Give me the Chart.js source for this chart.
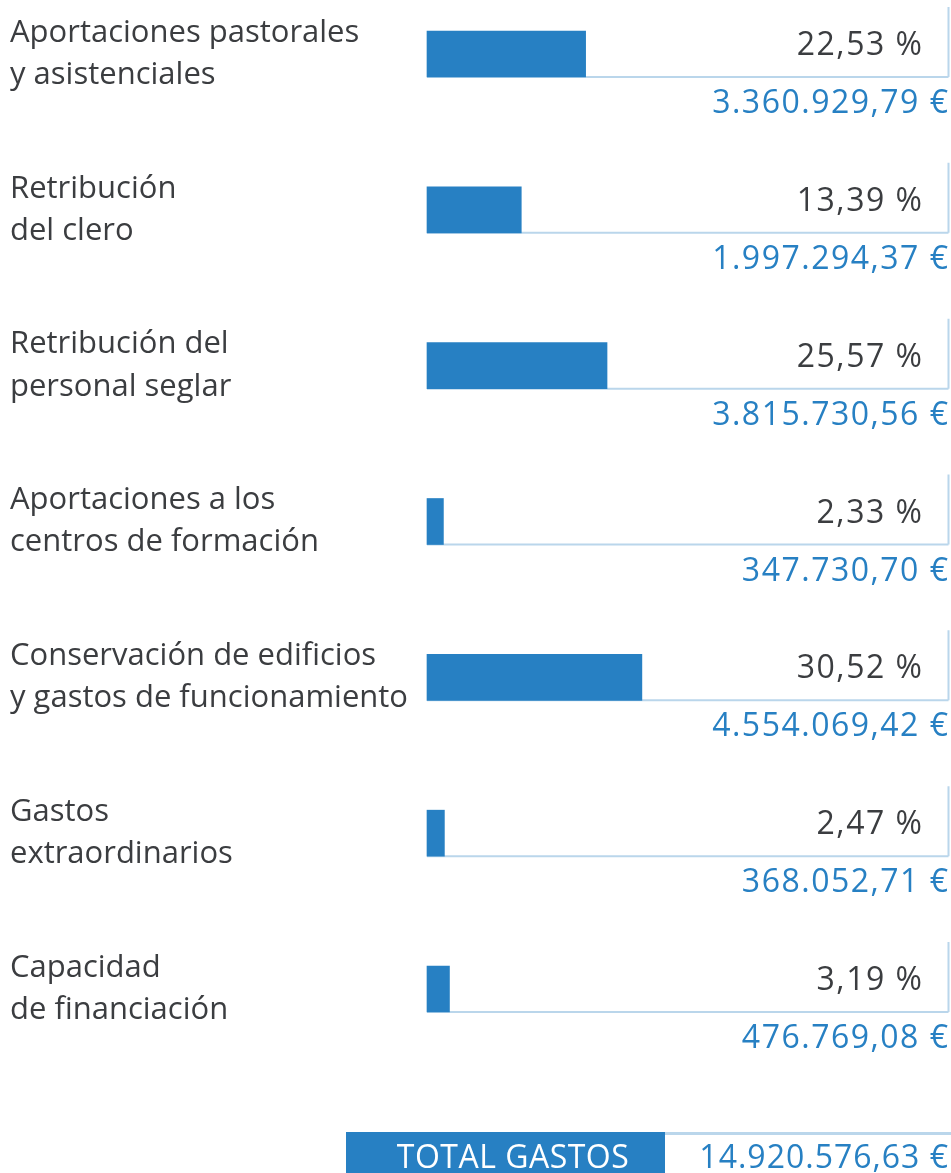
<!DOCTYPE html>
<html>
<head>
<meta charset="utf-8">
<script src="https://cdn.jsdelivr.net/npm/chart.js@4/dist/chart.umd.min.js"></script>
<style>
  html, body { margin: 0; padding: 0; background: #ffffff; }
  #wrap { width: 951px; height: 1173px; }
</style>
</head>
<body>
<div id="wrap"><canvas id="c" width="951" height="1173"></canvas></div>
<script>
// ---- data ----
const categories = [
  ["Aportaciones pastorales", "y asistenciales"],
  ["Retribución", "del clero"],
  ["Retribución del", "personal seglar"],
  ["Aportaciones a los", "centros de formación"],
  ["Conservación de edificios", "y gastos de funcionamiento"],
  ["Gastos", "extraordinarios"],
  ["Capacidad", "de financiación"]
];
const percents = [22.53, 13.39, 25.57, 2.33, 30.52, 2.47, 3.19];
const amounts = [3360929.79, 1997294.37, 3815730.56, 347730.70, 4554069.42, 368052.71, 476769.08];
const totalLabel = "TOTAL GASTOS";
const totalAmount = 14920576.63;

// ---- helpers ----
function fmtEuro(v) {
  const parts = v.toFixed(2).split(".");
  const int = parts[0].replace(/\B(?=(\d{3})+(?!\d))/g, ".");
  return int + "," + parts[1] + " €";
}
function fmtPct(v) { return v.toFixed(2).replace(".", ",") + " %"; }

const BLUE = "#2780c3";
const LINE = "#bad6eb";
const DARK = "#3b3d40";
const FONT = "'Open Sans', Lato, sans-serif";
const BAR_T = 46;

const decor = {
  id: "decor",
  beforeDatasetsDraw(chart) {
    const ctx = chart.ctx;
    const meta = chart.getDatasetMeta(0);
    const x = chart.scales.x;
    const right = 948.5;
    ctx.save();
    ctx.strokeStyle = LINE;
    ctx.lineWidth = 2;
    meta.data.forEach((bar) => {
      const bottom = bar.y + BAR_T / 2;
      ctx.beginPath();
      ctx.moveTo(x.getPixelForValue(0), bottom);
      ctx.lineTo(right, bottom);
      ctx.moveTo(right, bottom);
      ctx.lineTo(right, bar.y - BAR_T / 2 - 24);
      ctx.stroke();
    });
    ctx.restore();
  },
  afterDatasetsDraw(chart) {
    const ctx = chart.ctx;
    const meta = chart.getDatasetMeta(0);
    ctx.save();
    ctx.textAlign = "right";
    ctx.textBaseline = "alphabetic";
    ctx.letterSpacing = "1.5px";
    meta.data.forEach((bar, i) => {
      const bottom = bar.y + BAR_T / 2;
      ctx.font = "32px " + FONT;
      ctx.fillStyle = DARK;
      ctx.fillText(fmtPct(percents[i]), 923.5, bar.y + 1);
      ctx.fillStyle = BLUE;
      ctx.fillText(fmtEuro(amounts[i]), 949.5, bottom + 36);
    });
    // total row
    ctx.fillStyle = BLUE;
    ctx.fillRect(346, 1132, 319, 45);
    ctx.strokeStyle = LINE;
    ctx.lineWidth = 3;
    ctx.beginPath();
    ctx.moveTo(665, 1133.5);
    ctx.lineTo(951, 1133.5);
    ctx.stroke();
    ctx.font = "32px " + FONT;
    ctx.letterSpacing = "0.5px";
    ctx.textAlign = "center";
    ctx.fillStyle = "#ffffff";
    ctx.fillText(totalLabel, 513, 1168);
    ctx.letterSpacing = "1px";
    ctx.textAlign = "right";
    ctx.fillStyle = BLUE;
    ctx.fillText(fmtEuro(totalAmount), 949, 1168);
    ctx.restore();
  }
};

new Chart(document.getElementById("c"), {
  type: "bar",
  data: {
    labels: categories,
    datasets: [{
      data: percents,
      backgroundColor: BLUE,
      borderWidth: 0,
      barThickness: BAR_T,
      clip: false
    }]
  },
  options: {
    indexAxis: "y",
    responsive: false,
    animation: false,
    devicePixelRatio: 1,
    layout: { padding: { left: 10, right: 3, top: 54, bottom: 184 } },
    plugins: { legend: { display: false }, tooltip: { enabled: false } },
    scales: {
      x: { display: false, min: 0, max: 74 },
      y: {
        offset: false,
        grid: { display: false },
        border: { display: false },
        afterFit(s) { s.width = 417; },
        ticks: {
          crossAlign: "far",
          padding: 0,
          color: DARK,
          font: { family: FONT, size: 31, lineHeight: 1.36 }
        }
      }
    }
  },
  plugins: [decor]
});
</script>
</body>
</html>
